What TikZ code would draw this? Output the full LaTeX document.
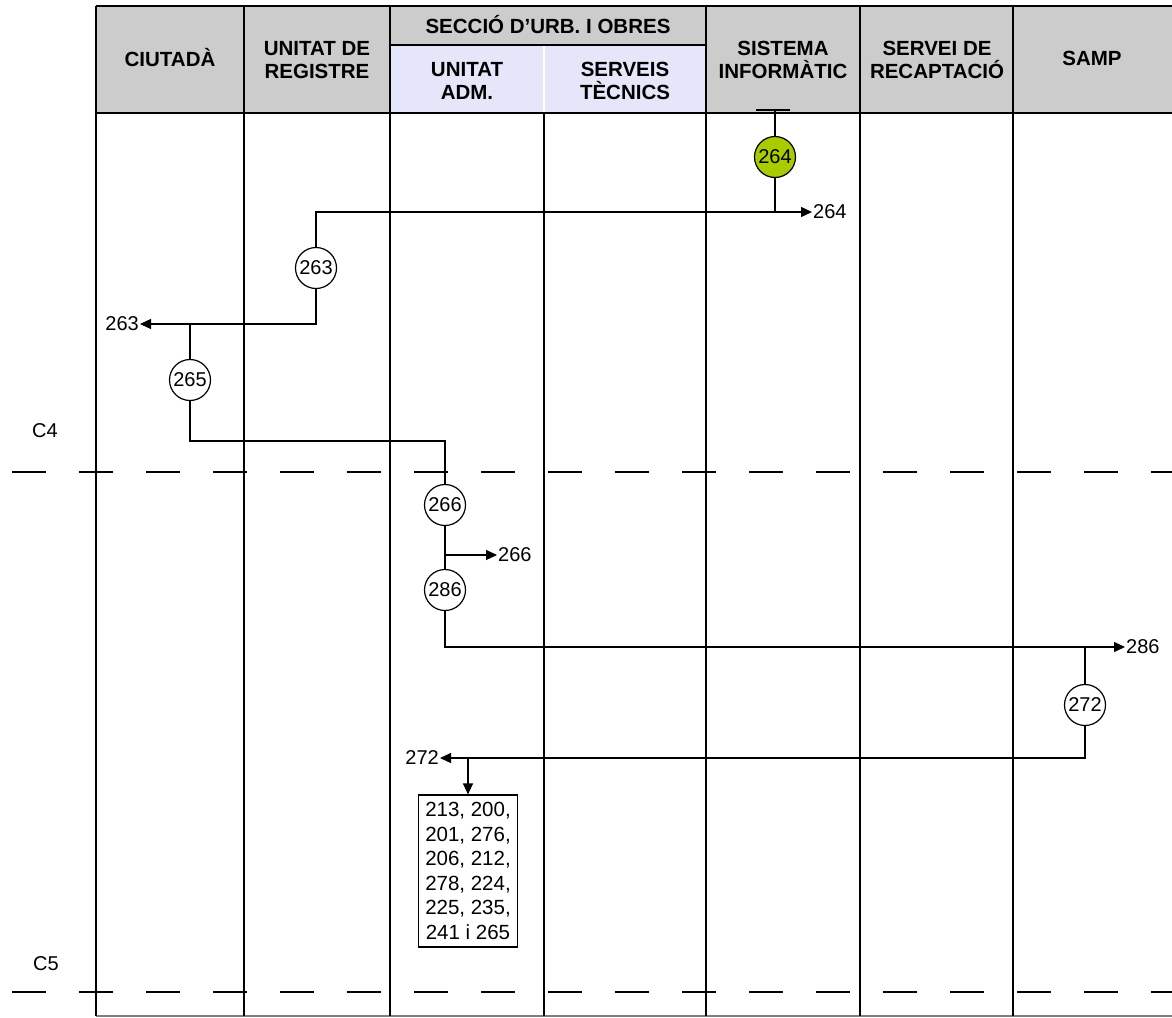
\documentclass[tikz,border=0pt]{standalone}
\usepackage{fontspec}
\setmainfont{Liberation Sans}
\usetikzlibrary{arrows.meta}
\definecolor{hdrgray}{HTML}{CCCCCC}
\definecolor{hdrlav}{HTML}{E6E6FA}
\definecolor{stepgreen}{HTML}{A8CC00}
\begin{document}
\begin{tikzpicture}[x=1pt, y=-1pt, >={Triangle[length=11pt,width=10pt]}]
    \tikzset{
        lane/.style = {draw, line width=2pt},
        hdr/.style  = {font=\fontsize{20.5}{23}\selectfont\bfseries, align=center},
        num/.style  = {draw, circle, line width=1.2pt, fill=white, minimum size=41pt, inner sep=0pt, font=\fontsize{20}{20}\selectfont},
        flow/.style = {line width=1.2pt},
        tag/.style  = {font=\fontsize{20}{20}\selectfont, inner sep=1pt},
        cut/.style  = {line width=1.2pt, dash pattern=on 34pt off 33pt, dash phase=55pt}
    }
    \useasboundingbox (0,0) rectangle (1172,1017);

    % header
    \fill[hdrgray] (96,6) rectangle (1172,113);
    \fill[hdrlav] (390,45) rectangle (706,113);
    \draw[lane] (96,6) -- (1172,6);
    \draw[lane] (96,113) -- (1172,113);
    \draw[lane] (390,45) -- (706,45);
    \draw[lane, gray] (96,1016) -- (1172,1016);
    \foreach \x in {96,244,390,706,860,1013}
        \draw[lane] (\x,6) -- (\x,1016);
    \draw[lane] (544,113) -- (544,1016);
    \draw[white, line width=1.5pt] (544,46) -- (544,112);

    \node[hdr] (h1) at (170,58) {CIUTADÀ};
    \node[hdr] (h2) at (317,60) {UNITAT DE\\REGISTRE};
    \node[hdr] (h3) at (548,25) {SECCIÓ D'URB. I OBRES};
    \node[hdr] (h4) at (467,81) {UNITAT\\ADM.};
    \node[hdr] (h5) at (625,81) {SERVEIS\\TÈCNICS};
    \node[hdr] (h6) at (783,60) {SISTEMA\\INFORMÀTIC};
    \node[hdr] (h7) at (937,60) {SERVEI DE\\RECAPTACIÓ};
    \node[hdr] (h8) at (1092,58) {SAMP};

    % cuts
    \draw[cut] (0,472) -- (1172,472);
    \draw[cut] (0,992) -- (1172,992);
    \node[tag] (C4) at (45,431) {C4};
    \node[tag] (C5) at (46,964) {C5};

    % steps
    \node[num, fill=stepgreen] (c264) at (775,157) {264};
    \node[num] (c263) at (316,268) {263};
    \node[num] (c265) at (190,380) {265};
    \node[num] (c266) at (445,505) {266};
    \node[num] (c286) at (445,590) {286};
    \node[num] (c272) at (1085,705) {272};

    \node[tag, anchor=west] (t264) at (812,212) {264};
    \node[tag, anchor=east] (t263) at (140,324) {263};
    \node[tag, anchor=west] (t266) at (497,555) {266};
    \node[tag, anchor=west] (t286) at (1125,647) {286};
    \node[tag, anchor=east] (t272) at (440,758) {272};

    \node[draw, line width=1.2pt, minimum width=99pt, minimum height=152pt, inner sep=2pt,
          align=center, font=\fontsize{20.5}{24.5}\selectfont] (list) at (468,871)
          {213, 200,\\201, 276,\\206, 212,\\278, 224,\\225, 235,\\241 i 265};

    \coordinate (top) at (775,110);
    \coordinate (j265) at (445,441);
    \coordinate (j266) at (445,555);
    \coordinate (j272) at (468,758);

    \draw[line width=2pt] (756,110) -- (790,110);
    \draw[flow] (top) -- (c264);
    \draw[flow] (c264) -- (c264 |- t264.west);
    \draw[flow,->] (c263) |- (t264.west);
    \draw[flow,->] (c263) |- (t263.east);
    \draw[flow] (c265) -- (c265 |- t263.east);
    \draw[flow] (c265) |- (j265) -- (c266);
    \draw[flow] (c266) -- (c286);
    \draw[flow,->] (j266) -- (t266.west);
    \draw[flow,->] (c286) |- (t286.west);
    \draw[flow] (c272) -- (c272 |- t286.west);
    \draw[flow,->] (c272) |- (t272.east);
    \draw[flow,->] (j272) -- (list.north);
\end{tikzpicture}
\end{document}
